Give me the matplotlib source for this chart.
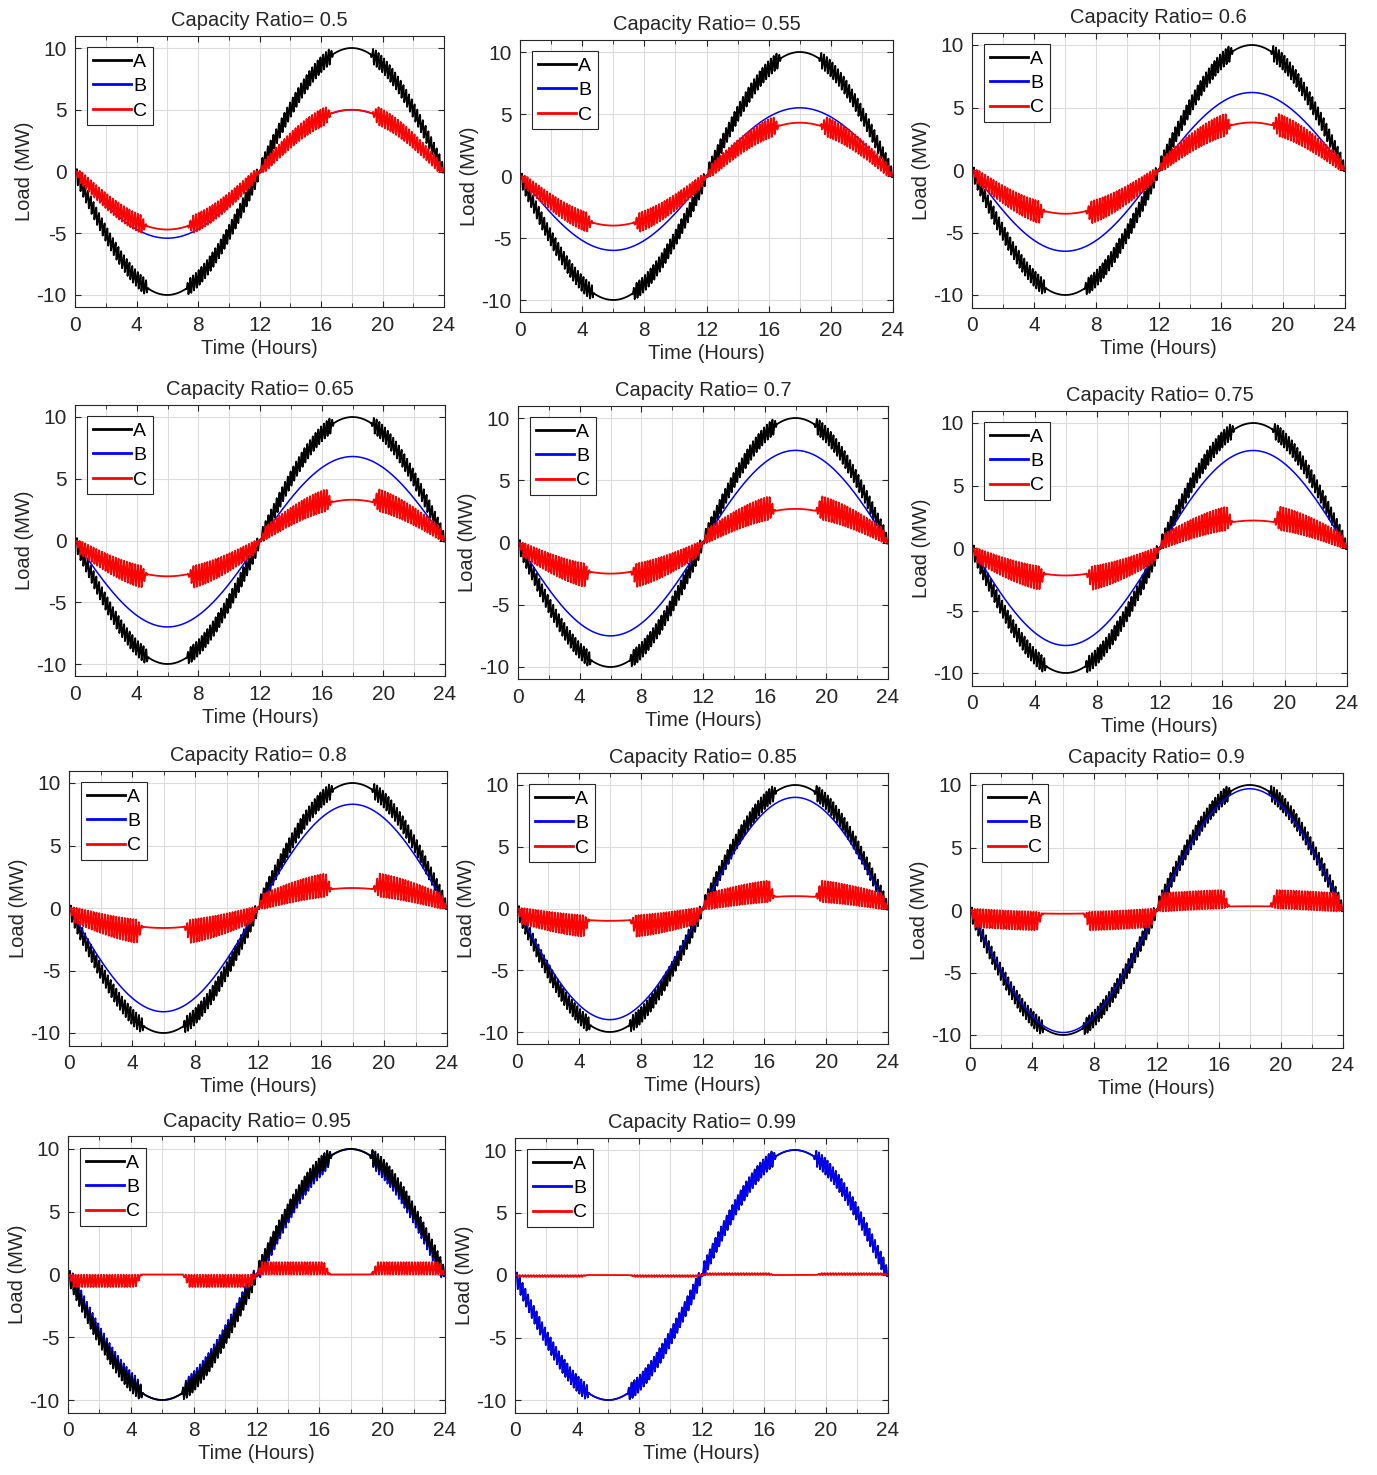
import numpy as np
import matplotlib.pyplot as plt
from matplotlib.ticker import MultipleLocator

plt.rcParams['font.family'] = ['Liberation Sans', 'DejaVu Sans']
plt.rcParams['axes.unicode_minus'] = False

# capacity ratios, one panel each
ratios = [0.5, 0.55, 0.6, 0.65, 0.7, 0.75, 0.8, 0.85, 0.9, 0.95, 0.99]
peak_load = 10.0  # MW, amplitude of A
a_ripple = 0.65   # MW, half width of the ripple on A

# B: smooth extremes (None -> B follows A, pulled in by b_inset)
b_max = [5.0, 5.5, 6.2, 6.8, 7.4, 7.8, 8.3, 9.0, 9.7, None, None]
b_min = [-5.4, -6.0, -6.5, -7.0, -7.5, -7.8, -8.3, -9.0, -9.8, None, None]
b_inset = [0, 0, 0, 0, 0, 0, 0, 0, 0, 0.3, 0.0]
# C: level at the daily peaks, ripple half width, offset away from zero
# and how much the ripple swells towards the peaks
c_max = [5.0, 4.3, 3.8, 3.3, 2.7, 2.2, 1.6, 1.0, 0.3, 0.0, 0.0]
c_min = [-4.7, -4.0, -3.5, -2.9, -2.5, -2.2, -1.6, -1.0, -0.3, 0.0, 0.0]
c_ripple = [0.7, 0.75, 0.85, 0.85, 0.9, 0.9, 0.9, 0.85, 0.75, 0.5, 0.08]
c_shift = [0.0, 0.1, 0.2, 0.3, 0.35, 0.4, 0.4, 0.5, 0.6, 0.5, 0.08]
c_grow = [0.3, 0.35, 0.4, 0.4, 0.4, 0.4, 0.35, 0.25, 0.0, 0.0, 0.0]

# panel frames in pixels: left, right, y of +10, y of -10
frames = [(75, 444, 48, 295), (520, 893, 52, 300), (972, 1345, 45, 295),
          (75, 445, 417, 664), (518, 888, 418, 667), (972, 1347, 423, 673),
          (69, 447, 783, 1033), (517, 888, 785, 1032), (970, 1343, 785, 1035),
          (68, 445, 1149, 1400), (515, 888, 1150, 1400)]

W, H = 1377, 1475
fig = plt.figure(figsize=(W / 100, H / 100), dpi=100)

t = np.linspace(0, 24, 6001)
s = -np.sin(2 * np.pi * t / 24)
sgn = np.sign(s)
period = 0.18
ph = (t / period) % 1.0
wave = np.where(ph < 0.7, -1 + 2 * ph / 0.7, 1 - 2 * (ph - 0.7) / 0.3)

d_peak = np.minimum(np.abs(t - 6), np.abs(t - 18))
d_zero = np.min(np.abs(t[:, None] - np.array([0, 12, 24])[None, :]), axis=1)
env_a = np.clip((d_peak - 1.2) / 0.2, 0, 1) * np.clip(d_zero / 0.15, 0, 1)
env_c = np.clip((d_peak - 1.3) / 0.4, 0, 1) * np.clip(d_zero / 0.35, 0, 1)

A = peak_load * s + a_ripple * env_a * wave

for i, r in enumerate(ratios):
    L, R, y10, ym10 = frames[i]
    u = (ym10 - y10) / 20
    top, bot = y10 - u, ym10 + u
    ax = fig.add_axes([L / W, 1 - bot / H, (R - L) / W, (bot - top) / H])

    c_smooth = np.where(s >= 0, c_max[i] * s, -c_min[i] * s)
    amp = c_ripple[i] * (1 - c_grow[i] + c_grow[i] * np.abs(s) * 1.3)
    C = c_smooth + env_c * (sgn * c_shift[i] + amp * wave)
    if b_max[i] is None:
        B = A - sgn * env_c * b_inset[i]
    else:
        B = np.where(s >= 0, b_max[i] * s, -b_min[i] * s)

    ax.plot(t, A, color='k', lw=1.3, label='A')
    if b_max[i] is None and b_inset[i] > 0:
        # B sits under A here, A stays on top
        ax.plot(t, B, color='#0000ff', lw=1.3, label='B', zorder=1.9)
    else:
        ax.plot(t, B, color='#0000ff', lw=1.1, label='B')
    ax.plot(t, C, color='#ff0000', lw=1.3, label='C')

    ax.set_xlim(0, 24)
    ax.set_ylim(-11, 11)
    ax.xaxis.set_major_locator(MultipleLocator(4))
    ax.xaxis.set_minor_locator(MultipleLocator(2))
    ax.yaxis.set_major_locator(MultipleLocator(5))
    ax.grid(True, which='major', color='#dcdcdc', lw=0.8)
    ax.grid(True, which='minor', axis='x', color='#dcdcdc', lw=0.8)
    ax.set_axisbelow(True)
    ax.tick_params(which='both', direction='in', top=True, right=True,
                   colors='#262626', labelsize=15, length=4, pad=6)
    ax.tick_params(which='minor', length=3)
    for sp in ax.spines.values():
        sp.set_color('#262626')
        sp.set_linewidth(0.8)

    ax.set_title('Capacity Ratio= {}'.format(r), fontsize=14.5, pad=7,
                 color='#262626')
    ax.set_xlabel('Time (Hours)', fontsize=14.5, labelpad=3, color='#262626')
    ax.set_ylabel('Load (MW)', fontsize=14.5, labelpad=2, color='#262626')

    leg = ax.legend(loc='upper left', fontsize=14, handlelength=2.0,
                    handletextpad=0.1, borderpad=0.3, labelspacing=0.35,
                    fancybox=False, edgecolor='#262626', framealpha=1,
                    borderaxespad=0.6)
    leg.get_frame().set_linewidth(0.8)
    for ln in leg.get_lines():
        ln.set_linewidth(2.0)

fig.savefig('out.png', dpi=100)
